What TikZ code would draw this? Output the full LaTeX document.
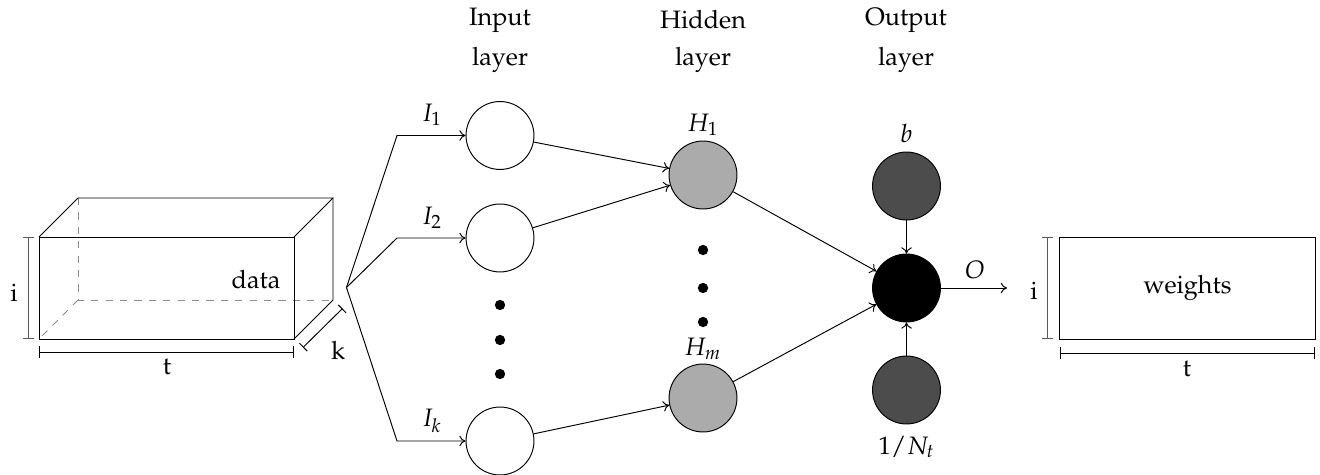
\documentclass[tikz,border=0pt]{standalone}
\usepackage[T1]{fontenc}
\usepackage{mathpazo}
\usetikzlibrary{arrows.meta}
\begin{document}
\begin{tikzpicture}[x=0.4167pt,y=-0.4167pt,line width=0.4pt,
  font=\fontsize{10.5}{12}\selectfont,
  neuron/.style={circle,draw,minimum size=28.3pt,inner sep=0pt},
  inneuron/.style={neuron,fill=white},
  hidneuron/.style={neuron,fill=black!33},
  biasneuron/.style={neuron,fill=black!70},
  outneuron/.style={neuron,fill=black},
  conn/.style={-{To[length=2.6pt,width=4.4pt]}},
  bigdot/.style={circle,fill=black,inner sep=0pt,minimum size=4.3pt},
  dimline/.style={{Bar[width=4.6pt]}-{Bar[width=4.6pt]}},
  hidden/.style={dashed,black!45},
  txt/.style={inner sep=0pt}
]
\useasboundingbox (0,0) rectangle (1320,475);

% layer titles
\node[txt] (tin1) at (500,20) {Input};
\node[txt] (tin2) at (500,60) {layer};
\node[txt] (thid1) at (703,20) {Hidden};
\node[txt] (thid2) at (703,60) {layer};
\node[txt] (tout1) at (906,20) {Output};
\node[txt] (tout2) at (906,60) {layer};

% data cuboid
\draw[hidden] (78,198) -- (78,300) -- (333,300);
\draw[hidden] (78,300) -- (39,339);
\draw (39,237) rectangle (294,339);
\draw (39,237) -- (78,198) -- (333,198) -- (294,237);
\draw (333,198) -- (333,300) -- (294,339);
\node[txt,anchor=east] (data) at (281,279) {data};

% dimensions of data
\coordinate (di1) at (28.5,237);
\coordinate (di2) at (28.5,339);
\draw[dimline,black!65] (di1) -- (di2);
\node[txt] (li) at (14,293) {i};
\coordinate (dt1) at (39,352);
\coordinate (dt2) at (294,352);
\draw[dimline] (dt1) -- (dt2);
\node[txt] (lt) at (167,367) {t};
\coordinate (dk1) at (303,347.5);
\coordinate (dk2) at (342.5,308.5);
\draw[dimline] (dk1) -- (dk2);
\node[txt] (lk) at (338,350) {k};

% input neurons
\node[inneuron] (in1) at (500,135.5) {};
\node[inneuron] (in2) at (500,238) {};
\node[inneuron] (ink) at (500,441) {};
\node[bigdot] (id1) at (500,305) {};
\node[bigdot] (id2) at (500,340) {};
\node[bigdot] (id3) at (500,374) {};

% fan
\coordinate (fan) at (346.5,287.5);
\coordinate (f1) at (397,135.5);
\coordinate (f2) at (397,238);
\coordinate (fk) at (397,441);
\draw[conn] (fan) -- (f1) -- (in1);
\draw[conn] (fan) -- (f2) -- (in2);
\draw[conn] (fan) -- (fk) -- (ink);
\node[txt] (lI1) at (432,115) {$I_1$};
\node[txt] (lI2) at (432,218) {$I_2$};
\node[txt] (lIk) at (432,421) {$I_k$};

% hidden neurons
\node[hidneuron] (h1) at (703,175) {};
\node[hidneuron] (hm) at (703,398) {};
\node[bigdot] (hd1) at (703,250) {};
\node[bigdot] (hd2) at (703,288) {};
\node[bigdot] (hd3) at (703,322) {};
\node[txt] (lH1) at (703,125) {$H_1$};
\node[txt] (lHm) at (703,349) {$H_m$};

\draw[conn] (in1) -- (h1);
\draw[conn] (in2) -- (h1);
\draw[conn] (ink) -- (hm);

% output
\node[outneuron] (out) at (906.5,288) {};
\node[biasneuron] (b) at (906.5,186) {};
\node[biasneuron] (nt) at (906.5,390) {};
\node[txt] (lb) at (906.5,133) {$b$};
\node[txt] (lnt) at (906.5,447) {$1/N_t$};
\draw[conn] (h1) -- (out);
\draw[conn] (hm) -- (out);
\draw[conn] (b) -- (out);
\draw[conn] (nt) -- (out);
\coordinate (oend) at (1007,288);
\draw[conn] (out) -- (oend);
\node[txt] (lO) at (975,270) {$O$};

% weights
\node[draw,minimum width=106.3pt,minimum height=42.5pt,inner sep=0pt] (w) at (1187.5,288) {weights};
\coordinate (wi1) at (1047.5,237);
\coordinate (wi2) at (1047.5,339);
\draw[dimline,black!65] (wi1) -- (wi2);
\node[txt] (lwi) at (1034,291) {i};
\coordinate (wt1) at (1060,353);
\coordinate (wt2) at (1315,353);
\draw[dimline] (wt1) -- (wt2);
\node[txt] (lwt) at (1187,369) {t};
\end{tikzpicture}
\end{document}
